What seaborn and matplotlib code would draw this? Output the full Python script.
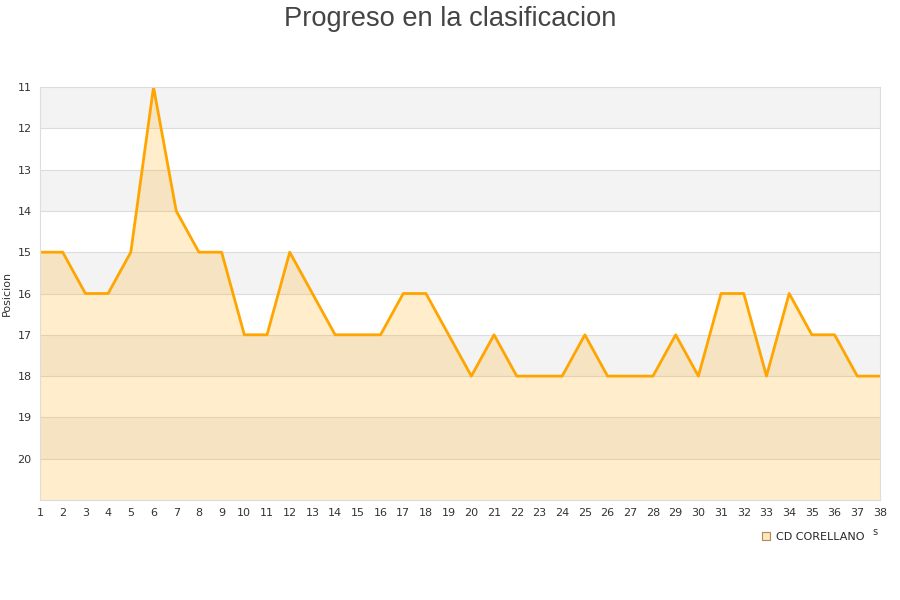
import numpy as np
import pandas as pd
import seaborn as sns
import matplotlib.pyplot as plt
from matplotlib.lines import Line2D

jornadas = list(range(1, 39))
posicion = [15, 15, 16, 16, 15, 11, 14, 15, 15, 17,
            17, 15, 16, 17, 17, 17, 16, 16, 17, 18,
            17, 18, 18, 18, 17, 18, 18, 18, 17, 18,
            16, 16, 18, 16, 17, 17, 18, 18]
equipo = "CD CORELLANO"

df = pd.DataFrame({"jornada": jornadas, "posicion": posicion})

sns.set_style("white")
plt.rcParams['font.family'] = ['DejaVu Sans']

fig = plt.figure(figsize=(9, 6), dpi=100)
ax = fig.add_axes([40 / 900, 100 / 600, 840 / 900, 413 / 600])

# alternating bands
for k in range(11, 21, 2):
    ax.axhspan(k, k + 1, color="#f3f3f3", zorder=0, lw=0)
for k in range(12, 21):
    ax.axhline(k, color="#dddddd", lw=0.8, zorder=0.5)

orange = "#ffa500"
ax.fill_between(df["jornada"], df["posicion"], 21, color=orange, alpha=0.2, lw=0, zorder=1)
sns.lineplot(data=df, x="jornada", y="posicion", color=orange, lw=2, ax=ax, zorder=2)

ax.set_xlim(1, 38)
ax.set_ylim(21, 11)
ax.set_xticks(jornadas)
ax.set_yticks(range(11, 21))
ax.tick_params(axis="both", labelsize=8, colors="#333333", length=0, pad=6)
ax.set_xlabel("")
ax.set_ylabel("Posicion", fontsize=8, color="#333333", labelpad=4)
for s in ax.spines.values():
    s.set_color("#dddddd")
    s.set_linewidth(0.8)

fig.text(0.5, 0.99, "Progreso en la clasificacion", ha="center", va="top",
         fontsize=19.6, color="#444444", family=["Liberation Sans", "DejaVu Sans"])

handle = Line2D([], [], marker="s", ls="", markersize=6,
                markerfacecolor="#ffe6c0", markeredgecolor="#b08a50", markeredgewidth=0.8)
fig.legend([handle], [equipo], loc="center", bbox_to_anchor=(812 / 900, 1 - 537 / 600),
           frameon=False, fontsize=8, handletextpad=0.3, handlelength=1.2)
fig.text(875 / 900, 1 - 532 / 600, "s", fontsize=7, color="#333333", ha="center", va="center")

fig.savefig("out.png", dpi=100)
